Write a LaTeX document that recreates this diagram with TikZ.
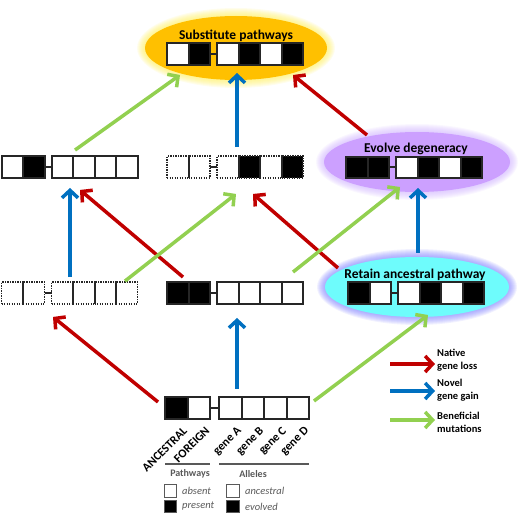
\documentclass[tikz,border=0pt]{standalone}
\usepackage{fontspec}
\setmainfont{Carlito}
\usetikzlibrary{arrows.meta,shapes.geometric,calc}

\definecolor{lossred}{RGB}{192,0,0}
\definecolor{gainblue}{RGB}{0,112,192}
\definecolor{mutgreen}{RGB}{146,208,80}
\definecolor{substorange}{RGB}{255,192,0}
\definecolor{substglow}{RGB}{255,238,80}
\definecolor{evolvepurple}{RGB}{204,160,255}
\definecolor{evolveglow}{RGB}{205,175,255}
\definecolor{retaincyan}{RGB}{110,252,252}
\definecolor{retainglow}{RGB}{120,120,255}
\definecolor{cellgray}{RGB}{38,38,38}
\definecolor{keygray}{RGB}{89,89,89}

\tikzset{
  cell/.style={draw=cellgray, line width=2pt, inner sep=0pt, outer sep=0pt},
  cellline/.style={draw=cellgray, line width=2pt},
  dotcell/.style={dash pattern=on 1.4pt off 1.1pt, line width=1.8pt},
  pathway/.style={ellipse, inner sep=0pt},
  title/.style={font=\fontsize{13.5}{16}\selectfont\bfseries},
  genelabel/.style={font=\fontsize{12}{14}\selectfont\bfseries, rotate=45, anchor=north east, inner sep=1pt},
  arrowline/.style={line width=3.5pt, -{Straight Barb[length=7.5pt,width=16pt]}},
  loss/.style={arrowline, lossred},
  gain/.style={arrowline, gainblue},
  benefit/.style={arrowline, mutgreen},
  keyrule/.style={keygray, line width=1.5pt},
  keytext/.style={font=\fontsize{10}{12}\selectfont\bfseries, text=keygray},
  keyital/.style={font=\fontsize{10.5}{12}\selectfont\itshape, text=keygray, anchor=west, inner sep=0pt},
  keybox/.style={draw=keygray, line width=1pt, minimum size=12.5pt, inner sep=0pt},
  legendtext/.style={font=\fontsize{10.5}{13}\selectfont\bfseries, align=left, anchor=west, inner sep=0pt},
}

% row of pathway + allele cells: name, x, y, size, gap, fills, cell style
\newcommand{\generow}[7]{%
  \begin{scope}[shift={(#2,#3)}]
    \foreach \f [count=\i] in {#6} {
      \pgfmathsetmacro{\cx}{(\i-3.5)*#4+(\i>2?0.5:-0.5)*#5}
      \node[cell, #7, minimum size=#4, fill=\f] (#1-\i) at (\cx,0) {};
    }
    \draw[cellline] (#1-2.east) -- (#1-3.west);
    \node[inner sep=0pt, minimum width=6*#4+#5, minimum height=#4] (#1) at (0,0) {};
  \end{scope}
}
% soft halo round an ellipse: colour, x, y, rx, ry
\newcommand{\halo}[5]{%
  \foreach \k in {8,...,1}
    \fill[#1, opacity=0.1] (#2,#3) ellipse [x radius={#4+\k*1.0}, y radius={#5+\k*1.0}];
}

\begin{document}
\begin{tikzpicture}[x=1pt,y=-1pt]
\useasboundingbox (0,0) rectangle (520,516);

% Bereiche
\halo{substglow}{236}{48}{91}{32}
\node[pathway, fill=substorange, minimum width=182, minimum height=64] (subst) at (236,48) {};
\halo{evolveglow}{417}{162}{93}{30}
\node[pathway, fill=evolvepurple, minimum width=186, minimum height=60] (evolve) at (417,162) {};
\halo{retainglow}{417}{287}{92}{30}
\node[pathway, fill=retaincyan, minimum width=184, minimum height=60] (retain) at (417,287) {};

\node[title] (subst-title) at (236,36) {Substitute pathways};
\node[title] (evolve-title) at (416,149) {Evolve degeneracy};
\node[title] (retain-title) at (415,275) {Retain ancestral pathway};

% Zellen
\generow{S}{235}{54}{21.5}{7}{white,black,white,black,white,black}{}
\generow{L2}{69.5}{167}{21.5}{7}{white,black,white,white,white,white}{}
\generow{M2}{235}{167}{21.5}{7}{white,white,white,black,white,black}{dotcell}
\generow{E}{414}{167.5}{21.5}{7}{black,black,white,black,white,black}{}
\generow{L3}{69.5}{293}{21.5}{7}{white,white,white,white,white,white}{dotcell}
\generow{M3}{235}{293}{21.5}{7}{black,black,white,white,white,white}{}
\generow{R}{416}{293}{21.5}{7}{black,white,white,black,white,black}{}
\generow{B}{237}{408}{22.5}{9}{black,white,white,white,white,white}{}
\foreach \i in {1,3,4,5} {
  \draw[cellline] (M2-\i.north east) -- (M2-\i.south east);
  \draw[cellline] (L3-\i.north east) -- (L3-\i.south east);
}

% Pfeile
\draw[loss] ($(evolve)+(-50,-27)$) -- ($(subst)+(57,27)$);
\draw[loss] ($(M3.north)+(-52,-5)$) -- ($(L2.south)+(10.5,12)$);
\draw[loss] ($(retain)+(-79,-19)$) -- ($(M2.south)+(18,16)$);
\draw[loss] ($(B-1.west)+(-7,-6)$) -- ($(L3.south)+(-16.5,13)$);
\draw[gain] ($(M2.north)+(2,-9)$) -- ($(subst)+(1,25)$);
\draw[gain] ($(L3.north)+(0.5,-5)$) -- ($(L2.south)+(0.5,10)$);
\draw[gain] ($(retain)+(1,-34)$) -- ($(evolve)+(1,26)$);
\draw[gain] ($(B.north)+(0,-8)$) -- ($(M3.south)+(2,14)$);
\draw[benefit] ($(L2.north)+(5.5,-6)$) -- ($(subst)+(-56,27)$);
\draw[benefit] ($(L3.north)+(55.5,-1)$) -- ($(M2.south)+(1,16)$);
\draw[benefit] ($(M3.north)+(58,-10)$) -- ($(evolve)+(-17,25)$);
\draw[benefit] ($(B-6.east)+(5,-7)$) -- ($(retain)+(11,28)$);

% Bezeichnung
\foreach \g [count=\i] in {ANCESTRAL,FOREIGN,gene A,gene B,gene C,gene D}
  \node[genelabel] (lab-\i) at ($(B-\i.south)+(6,5)$) {\g};
\draw[keyrule] (B-1.west |- 0,464) -- (B-2.east |- 0,464);
\draw[keyrule] (B-3.west |- 0,464) -- (B-6.east |- 0,464);
\node[keytext] (pathways) at (190,474) {Pathways};
\node[keytext] (alleles) at (253,474) {Alleles};
\node[keybox, fill=white] (absent-box) at (170.5,491) {};
\node[keybox, fill=black] (present-box) at (170.5,506.5) {};
\node[keybox, fill=white] (ancestral-box) at (233,491) {};
\node[keybox, fill=black] (evolved-box) at (233,506.5) {};
\node[keyital] (absent) at (182,491) {absent};
\node[keyital] (present) at (182,506.5) {present};
\node[keyital] (ancestral) at (245,491) {ancestral};
\node[keyital] (evolved) at (245,506.5) {evolved};

% Legende
\node[legendtext] (loss-text) at (437,360) {Native\\gene loss};
\node[legendtext] (gain-text) at (437,390.5) {Novel\\gene gain};
\node[legendtext] (benefit-text) at (437,422.5) {Beneficial\\mutations};
\draw[loss] ($(loss-text.west)+(-47,4)$) -- ($(loss-text.west)+(-2,4)$);
\draw[gain] ($(gain-text.west)+(-47,0.5)$) -- ($(gain-text.west)+(-2,0.5)$);
\draw[benefit] ($(benefit-text.west)+(-47,-2.5)$) -- ($(benefit-text.west)+(-2,-2.5)$);
\end{tikzpicture}
\end{document}
